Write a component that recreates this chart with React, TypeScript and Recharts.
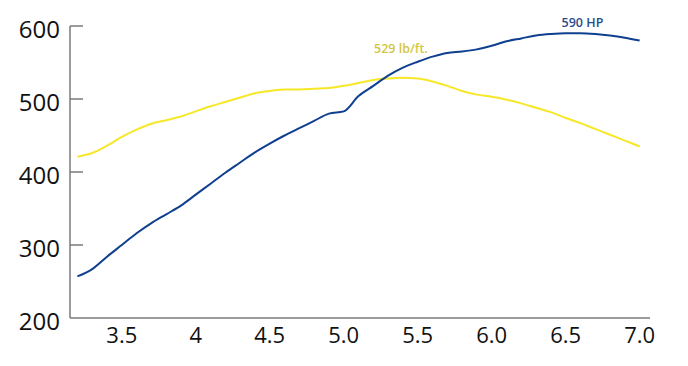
import React from 'react';
import { LineChart, Line, XAxis, YAxis, ReferenceDot, ReferenceLine } from 'recharts';

const rpm = [
  3.2, 3.3, 3.4, 3.5, 3.6, 3.7, 3.8, 3.9, 4.0, 4.1, 4.2, 4.3, 4.4, 4.5, 4.6, 4.7, 4.8, 4.9, 5.0, 5.1,
  5.2, 5.3, 5.4, 5.5, 5.6, 5.7, 5.8, 5.9, 6.0, 6.1, 6.2, 6.3, 6.4, 6.5, 6.6, 6.7, 6.8, 6.9, 7.0,
];
const horsepower = [
  257, 267, 284, 300, 316, 330, 342, 354, 369, 384, 399, 413, 427, 439, 450, 460, 470, 480, 483, 504,
  518, 532, 543, 551, 558, 563, 565, 568, 573, 579, 583, 587, 589, 590, 590, 589, 587, 584, 580,
];
const torque = [
  421, 426, 436, 448, 458, 466, 471, 476, 483, 490, 496, 502, 508, 511, 513, 513, 514, 515, 518, 522,
  526, 528, 529, 528, 524, 518, 511, 506, 503, 499, 494, 488, 482, 474, 467, 459, 451, 443, 435,
];

const xDomain = [3.15, 7.07];
const xTicks = [3.5, 4, 4.5, 5, 5.5, 6, 6.5, 7];
const xTickLabels = ['3.5', '4', '4.5', '5.0', '5.5', '6.0', '6.5', '7.0'];
const yTicks = [200, 300, 400, 500, 600];
// short marks drawn inward from the y axis (none at 200, the x axis sits there)
const yInnerTicks = [300, 400, 500, 600];
const markLen = (xDomain[1] - xDomain[0]) * 13 / 580;

const hpNote = { x: 6.6, y: 590, text: '590 HP' };
const torqueNote = { x: 5.4, y: 529, text: '529 lb/ft.' };

const data = rpm.map((r, i) => ({ rpm: r, hp: horsepower[i], tq: torque[i] }));

const FONT = '"Open Sans", sans-serif';
const AXIS = '#7a7a7a';

const YTick = (props: any) => {
  const x = Number(props.x);
  const y = Number(props.y);
  return (
    <text x={x - 10} y={y + 2} textAnchor="end" dominantBaseline="central" fontSize={24} fill="#111" fontFamily={FONT}>
      {props.payload.value}
    </text>
  );
};

const XTick = (props: any) => {
  const x = Number(props.x);
  const y = Number(props.y);
  const i = xTicks.indexOf(props.payload.value);
  return (
    <text x={x} y={y + 14} textAnchor="middle" dominantBaseline="central" fontSize={22} fill="#111" fontFamily={FONT}>
      {xTickLabels[i]}
    </text>
  );
};

const noteLabel = (text: string, color: string, dx: number, dy: number) => (props: any) => {
  const { viewBox } = props;
  const cx = viewBox.x + viewBox.width / 2;
  const cy = viewBox.y + viewBox.height / 2;
  return (
    <text x={cx + dx} y={cy + dy} textAnchor="middle" dominantBaseline="central" fontSize={12.5} fontWeight={600} fill={color} fontFamily={FONT}>
      {text}
    </text>
  );
};

export default function App() {
  return (
    <div style={{ position: 'absolute', left: 0, top: 0, background: '#fff' }}>
      <LineChart width={688} height={366} data={data} margin={{ top: 26, right: 38, bottom: 18, left: 10 }}>
        <XAxis
          dataKey="rpm"
          type="number"
          domain={xDomain}
          ticks={xTicks}
          tick={<XTick />}
          tickLine={false}
          tickSize={0}
          height={30}
          axisLine={{ stroke: AXIS, strokeWidth: 1.5 }}
        />
        <YAxis
          type="number"
          domain={[200, 600]}
          ticks={yTicks}
          tick={<YTick />}
          tickLine={false}
          tickSize={0}
          tickMargin={0}
          width={60}
          axisLine={{ stroke: AXIS, strokeWidth: 1.5 }}
        />
        {yInnerTicks.map((v) => (
          <ReferenceLine
            key={v}
            segment={[{ x: xDomain[0], y: v }, { x: xDomain[0] + markLen, y: v }]}
            stroke={AXIS}
            strokeWidth={1.5}
            ifOverflow="visible"
          />
        ))}
        <Line type="monotone" dataKey="tq" stroke="#f6e729" strokeWidth={2} dot={false} isAnimationActive={false} />
        <Line type="monotone" dataKey="hp" stroke="#0f3f8f" strokeWidth={2} dot={false} isAnimationActive={false} />
        <ReferenceDot x={torqueNote.x} y={torqueNote.y} r={0} stroke="none" label={noteLabel(torqueNote.text, '#d4c640', -2, -29)} />
        <ReferenceDot x={hpNote.x} y={hpNote.y} r={0} stroke="none" label={noteLabel(hpNote.text, '#2b4c8c', 2, -11)} />
      </LineChart>
    </div>
  );
}
